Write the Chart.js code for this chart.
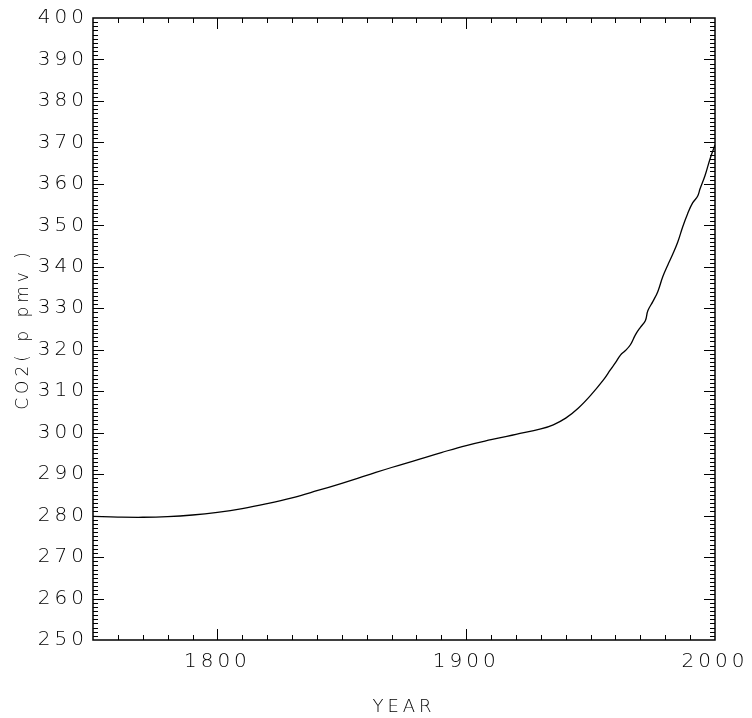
<!DOCTYPE html>
<html>
<head>
<meta charset="utf-8">
<script src="https://cdn.jsdelivr.net/npm/chart.js@4.4.1/dist/chart.umd.min.js"></script>
<style>
  html, body { margin: 0; padding: 0; background: #fff; }
  #wrap { width: 752px; height: 718px; }
</style>
</head>
<body>
<div id="wrap"><canvas id="co2Chart" width="752" height="718"></canvas></div>
<script>
// CO2 record (ice core + Mauna Loa)
const years = [1750, 1760, 1770, 1780, 1790, 1800, 1810, 1820, 1830, 1840,
  1850, 1860, 1870, 1880, 1890, 1900, 1910, 1920, 1930, 1935,
  1940, 1945, 1950, 1955, 1958, 1960, 1962, 1964, 1966, 1968,
  1970, 1972, 1973, 1975, 1977, 1979, 1981, 1983, 1985, 1987,
  1989, 1991, 1993, 1994, 1996, 1998, 2000];
const co2 = [279.8, 279.65, 279.6, 279.75, 280.15, 280.8, 281.7, 282.9, 284.3, 286.0,
  287.8, 289.7, 291.6, 293.4, 295.2, 296.9, 298.3, 299.6, 300.9, 301.9,
  303.5, 305.9, 309.0, 312.6, 315.2, 316.9, 318.7, 319.8, 321.2, 323.6,
  325.4, 327.0, 329.4, 331.6, 334.0, 337.6, 340.4, 343.0, 345.9, 349.6,
  352.8, 355.4, 357.0, 358.8, 362.0, 366.0, 369.4];

const xTicks = [1800, 1900, 2000];
const yTicks = [250, 260, 270, 280, 290, 300, 310, 320, 330, 340, 350, 360, 370, 380, 390, 400];

const FONT = "'DejaVu Sans', sans-serif";

// thin, spaced lettering like the plotting package font
const spacing = {
  id: 'spacing',
  beforeLayout(chart) { chart.ctx.letterSpacing = '4px'; },
  beforeDraw(chart) { chart.ctx.letterSpacing = '4px'; }
};

// box around the plot with inward ticks on all four sides
const frame = {
  id: 'frame',
  afterDraw(chart) {
    const { ctx, chartArea: a, scales: { x, y } } = chart;
    ctx.save();
    ctx.strokeStyle = '#000';
    ctx.lineWidth = 1;
    ctx.beginPath();
    for (let v = 1760; v < 2000; v += 10) {
      const px = Math.round(x.getPixelForValue(v)) + 0.5;
      const len = v % 100 === 0 ? 11 : 5;
      ctx.moveTo(px, a.bottom); ctx.lineTo(px, a.bottom - len);
      ctx.moveTo(px, a.top); ctx.lineTo(px, a.top + len);
    }
    for (let v = 251; v < 400; v += 1) {
      const py = Math.round(y.getPixelForValue(v)) + 0.5;
      const len = v % 10 === 0 ? 11 : 5;
      ctx.moveTo(a.left, py); ctx.lineTo(a.left + len, py);
      ctx.moveTo(a.right, py); ctx.lineTo(a.right - len, py);
    }
    ctx.stroke();
    ctx.lineWidth = 1.5;
    ctx.strokeRect(a.left, a.top, a.right - a.left, a.bottom - a.top);
    ctx.restore();
  }
};

const ctx = document.getElementById('co2Chart').getContext('2d');
new Chart(ctx, {
  type: 'line',
  data: {
    datasets: [{
      data: years.map((yr, i) => ({ x: yr, y: co2[i] })),
      borderColor: '#000',
      borderWidth: 1.3,
      pointRadius: 0,
      tension: 0.4,
      fill: false
    }]
  },
  options: {
    responsive: false,
    animation: false,
    devicePixelRatio: 1,
    layout: { padding: { top: 18, right: 37, left: 0, bottom: 0 } },
    plugins: { legend: { display: false }, tooltip: { enabled: false } },
    scales: {
      x: {
        type: 'linear',
        min: 1750,
        max: 2000,
        grid: { display: false, drawTicks: false },
        border: { display: false },
        afterBuildTicks: s => { s.ticks = xTicks.map(v => ({ value: v })); },
        afterFit: s => { s.height = 78; s.paddingLeft = 0; s.paddingRight = 0; },
        ticks: {
          color: '#000',
          font: { family: FONT, size: 20, weight: 200 },
          padding: 10,
          maxRotation: 0,
          autoSkip: false,
          callback: v => String(v)
        },
        title: {
          display: true,
          text: 'YEAR',
          color: '#000',
          font: { family: FONT, size: 18, weight: 200 },
          padding: { top: 13, bottom: 0 }
        }
      },
      y: {
        min: 250,
        max: 400,
        grid: { display: false, drawTicks: false },
        border: { display: false },
        afterBuildTicks: s => { s.ticks = yTicks.map(v => ({ value: v })); },
        afterFit: s => { s.width = 93; s.paddingTop = 0; s.paddingBottom = 0; },
        ticks: {
          color: '#000',
          font: { family: FONT, size: 20, weight: 200 },
          padding: 5,
          autoSkip: false
        },
        title: {
          display: true,
          text: 'CO2( p pmv )',
          color: '#000',
          font: { family: FONT, size: 17, weight: 200 },
          padding: { top: 13, bottom: 0 }
        }
      }
    }
  },
  plugins: [spacing, frame]
});
</script>
</body>
</html>
